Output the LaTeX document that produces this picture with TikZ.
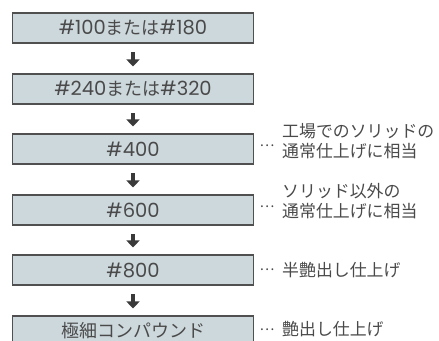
\documentclass[tikz,border=0pt]{standalone}
\usepackage{fontspec}
\setmainfont{Noto Sans CJK JP}
\newfontfamily\numfont{Poppins}
\usetikzlibrary{arrows.meta}
\definecolor{boxfill}{HTML}{CDD8DD}
\definecolor{boxline}{HTML}{505050}
\definecolor{txt}{HTML}{4A4A4A}
\definecolor{arr}{HTML}{3A3A3A}
\newcommand{\nm}[1]{{\numfont\fontsize{19.5pt}{20pt}\selectfont #1}}
\tikzset{
  stepbox/.style={draw=boxline, line width=1.1pt, fill=boxfill, minimum width=241pt, minimum height=30pt, inner sep=0pt, text=txt, font=\fontsize{18pt}{20pt}\selectfont},
  flowarrow/.style={draw=arr, line width=4.5pt, -{Triangle[width=13pt,length=7pt]}, shorten <=8.5pt, shorten >=7pt},
  dots/.style={text=txt, font=\fontsize{14pt}{16pt}\selectfont, inner sep=0pt},
  note/.style={text=txt, font=\fontsize{16.9pt}{20pt}\selectfont, inner sep=0pt, anchor=west, align=left}
}
\begin{document}
\begin{tikzpicture}[x=1pt,y=1pt]
\useasboundingbox (0,0) rectangle (439,-340);
\node[stepbox] (b1) at (133,-28) {\nm{\#100}または\nm{\#180}};
\node[stepbox] (b2) at (133,-89) {\nm{\#240}または\nm{\#320}};
\node[stepbox] (b3) at (133,-149) {\nm{\#400}};
\node[stepbox] (b4) at (133,-210) {\nm{\#600}};
\node[stepbox] (b5) at (133,-270) {\nm{\#800}};
\node[stepbox] (b6) at (133,-331) {極細コンパウンド};
\draw[flowarrow] (b1.south) -- (b2.north);
\draw[flowarrow] (b2.south) -- (b3.north);
\draw[flowarrow] (b3.south) -- (b4.north);
\draw[flowarrow] (b4.south) -- (b5.north);
\draw[flowarrow] (b5.south) -- (b6.north);
\node[dots] (d3) at (267,-146) {…};
\node[dots] (d4) at (267,-207) {…};
\node[dots] (d5) at (267,-270) {…};
\node[dots] (d6) at (267,-330) {…};
\node[note] (n3) at (282,-141) {工場でのソリッドの\\通常仕上げに相当};
\node[note] (n4) at (282,-201) {ソリッド以外の\\通常仕上げに相当};
\node[note] (n5) at (282,-270) {半艶出し仕上げ};
\node[note] (n6) at (282,-329) {艶出し仕上げ};
\end{tikzpicture}
\end{document}
